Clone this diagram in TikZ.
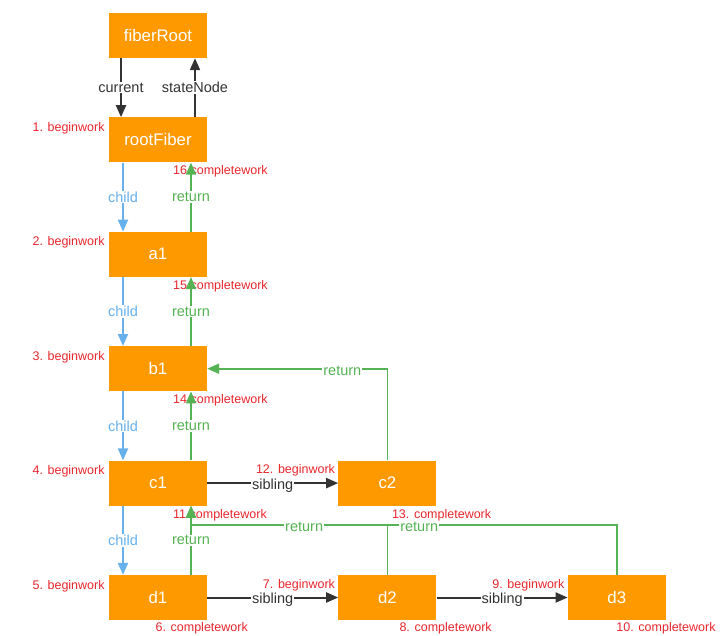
\documentclass[tikz,border=0pt]{standalone}
\usepackage{fontspec}
\setmainfont{Liberation Sans}
\usepackage{xcolor}
\usetikzlibrary{arrows.meta, positioning}
\definecolor{FB_ORANGE}{HTML}{FF9900}
\definecolor{FB_DARK}{HTML}{333333}
\definecolor{FB_BLUE}{HTML}{66B1EC}
\definecolor{FB_GREEN}{HTML}{55B353}
\definecolor{FB_RED}{HTML}{E8262C}
\tikzset{
  fib/.style={
    rectangle, minimum width=98pt, minimum height=45pt,
    text centered, fill=FB_ORANGE, text=white,
    font=\fontsize{16.8}{19}\selectfont},
  arr/.style={-{Triangle[length=12pt,width=10pt]}, line width=2pt, color=FB_DARK},
  childarr/.style={arr, color=FB_BLUE},
  retarr/.style={arr, line width=1.8pt, color=FB_GREEN},
  retline/.style={line width=1.8pt, color=FB_GREEN},
  lbl/.style={fill=white, inner sep=1pt, font=\fontsize{14.5}{17}\selectfont},
  note/.style={text=FB_RED, inner sep=0pt, font=\fontsize{12.5}{15}\selectfont},
}
\begin{document}
\begin{tikzpicture}[node distance=69pt and 131pt]
  \useasboundingbox (0,0) rectangle (722pt,-636pt);

  % fiber nodes
  \node[fib] (fiberRoot) at (158pt,-35.5pt) {fiberRoot};
  \node[fib, below=59pt of fiberRoot] (rootFiber) {rootFiber};
  \node[fib, below=of rootFiber] (a1) {a1};
  \node[fib, below=of a1] (b1) {b1};
  \node[fib, below=of b1] (c1) {c1};
  \node[fib, below=of c1] (d1) {d1};
  \node[fib, right=of c1] (c2) {c2};
  \node[fib, right=of d1] (d2) {d2};
  \node[fib, right=of d2] (d3) {d3};

  % beginwork steps
  \node[note, anchor=east] (bw1) at ([xshift=-4pt,yshift=-11pt]rootFiber.north west) {1. beginwork};
  \node[note, anchor=east] (bw2) at ([xshift=-4pt,yshift=-11pt]a1.north west) {2. beginwork};
  \node[note, anchor=east] (bw3) at ([xshift=-4pt,yshift=-11pt]b1.north west) {3. beginwork};
  \node[note, anchor=east] (bw4) at ([xshift=-4pt,yshift=-11pt]c1.north west) {4. beginwork};
  \node[note, anchor=east] (bw5) at ([xshift=-4pt,yshift=-11pt]d1.north west) {5. beginwork};
  \node[note, anchor=east] (bw7) at ([xshift=-3pt,yshift=-10pt]d2.north west) {7. beginwork};
  \node[note, anchor=east] (bw9) at ([xshift=-3pt,yshift=-10pt]d3.north west) {9. beginwork};
  \node[note, anchor=east] (bw12) at ([xshift=-3pt,yshift=-10pt]c2.north west) {12. beginwork};

  % completework steps
  \node[note] (cw6) at ([xshift=-5.5pt,yshift=-8.5pt]d1.south east) {6. completework};
  \node[note] (cw8) at ([xshift=9pt,yshift=-8.5pt]d2.south east) {8. completework};
  \node[note] (cw10) at ([yshift=-8.5pt]d3.south east) {10. completework};
  \node[note] (cw13) at ([xshift=5pt,yshift=-9.5pt]c2.south east) {13. completework};
  \node[note, anchor=west] (cw11) at ([xshift=15pt,yshift=-9pt]c1.south) {11.completework};
  \node[note, anchor=west] (cw14) at ([xshift=15pt,yshift=-9pt]b1.south) {14.completework};
  \node[note, anchor=west] (cw15) at ([xshift=15pt,yshift=-9pt]a1.south) {15.completework};
  \node[note, anchor=west] (cw16) at ([xshift=15pt,yshift=-9pt]rootFiber.south) {16.completework};

  \coordinate (c1ret) at ([xshift=33pt,yshift=-19pt]c1.south);

  % current / stateNode
  \draw[arr] ([xshift=-37pt]fiberRoot.south) -- node[lbl] {current} ([xshift=-37pt]rootFiber.north);
  \draw[arr] ([xshift=37pt]rootFiber.north) -- node[lbl] {stateNode} ([xshift=37pt]fiberRoot.south);

  % child
  \draw[childarr] ([xshift=-35pt]rootFiber.south) -- node[lbl] {child} ([xshift=-35pt]a1.north);
  \draw[childarr] ([xshift=-35pt]a1.south) -- node[lbl] {child} ([xshift=-35pt]b1.north);
  \draw[childarr] ([xshift=-35pt]b1.south) -- node[lbl] {child} ([xshift=-35pt]c1.north);
  \draw[childarr] ([xshift=-35pt]c1.south) -- node[lbl] {child} ([xshift=-35pt]d1.north);

  % sibling
  \draw[arr] (c1) -- node[lbl, yshift=-2.5pt] {sibling} (c2);
  \draw[arr] (d1) -- node[lbl, yshift=-2.5pt] {sibling} (d2);
  \draw[arr] (d2) -- node[lbl, yshift=-2.5pt] {sibling} (d3);

  % return
  \draw[retarr] ([xshift=33pt]a1.north) -- node[lbl] {return} ([xshift=33pt]rootFiber.south);
  \draw[retarr] ([xshift=33pt]b1.north) -- node[lbl] {return} ([xshift=33pt]a1.south);
  \draw[retarr] ([xshift=33pt]c1.north) -- node[lbl] {return} ([xshift=33pt]b1.south);
  \draw[retarr] ([xshift=33pt]d1.north) -- node[lbl] {return} ([xshift=33pt]c1.south);
  \draw[retarr] (c2.north) |- node[lbl, pos=0.625, yshift=-2pt] {return} (b1.east);
  \draw[retline] (d3.north) |- node[lbl, pos=0.732, yshift=-2pt] {return} (c1ret);
  \draw[retarr] (d2.north) |- node[lbl, pos=0.712, yshift=-2pt] {return} (c1ret)
    -- ([xshift=33pt]c1.south);

\end{tikzpicture}
\end{document}
